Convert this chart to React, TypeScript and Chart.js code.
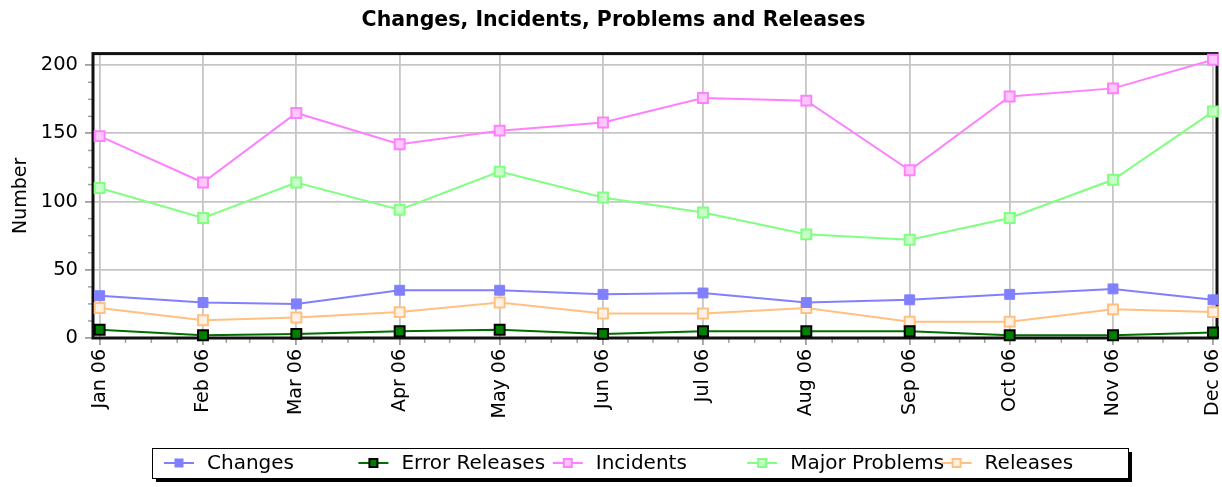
import React, { useEffect, useRef } from "react";
import { Chart, registerables } from "chart.js";

Chart.register(...registerables);

const months = ["Jan 06", "Feb 06", "Mar 06", "Apr 06", "May 06", "Jun 06", "Jul 06", "Aug 06", "Sep 06", "Oct 06", "Nov 06", "Dec 06"];
const monthDays = months.map((_, i) => Math.round((Date.UTC(2006, i, 1) - Date.UTC(2006, 0, 1)) / 86400000));

const changes = [31, 26, 25, 35, 35, 32, 33, 26, 28, 32, 36, 28];
const errorReleases = [6, 2, 3, 5, 6, 3, 5, 5, 5, 2, 2, 4];
const incidents = [148, 114, 165, 142, 152, 158, 176, 174, 123, 177, 183, 204];
const majorProblems = [110, 88, 114, 94, 122, 103, 92, 76, 72, 88, 116, 166];
const releases = [22, 13, 15, 19, 26, 18, 18, 22, 12, 12, 21, 19];

const yTicks = [0, 50, 100, 150, 200];

const FONT = "'DejaVu Sans', 'Liberation Sans', Arial, sans-serif";

const toPoints = (vals: number[]) => vals.map((v, i) => ({ x: monthDays[i], y: v }));

const mkDataset = (label: string, vals: number[], line: string, fill: string, border: string, bw: number) => ({
  label,
  data: toPoints(vals),
  borderColor: line,
  backgroundColor: fill,
  borderWidth: 2,
  pointStyle: "rect",
  pointRadius: 7,
  pointBackgroundColor: fill,
  pointBorderColor: border,
  pointBorderWidth: bw,
  tension: 0,
  clip: false as any,
});

const plotBorder = {
  id: "plotBorder",
  beforeDatasetsDraw(chart: any) {
    const { ctx, chartArea: a } = chart;
    ctx.save();
    ctx.strokeStyle = "#a0a0a0";
    ctx.lineWidth = 1.5;
    const xs = chart.scales.x;
    const ys = chart.scales.y;
    for (let i = 0; i < monthDays.length - 1; i++) {
      for (let k = 1; k < 4; k++) {
        const d = monthDays[i] + ((monthDays[i + 1] - monthDays[i]) * k) / 4;
        const px = xs.getPixelForValue(d);
        ctx.beginPath();
        ctx.moveTo(px, a.bottom);
        ctx.lineTo(px, a.bottom + 5);
        ctx.stroke();
      }
    }
    for (let v = 12.5; v < ys.max; v += 12.5) {
      if (v % 50 === 0) continue;
      const py = ys.getPixelForValue(v);
      ctx.beginPath();
      ctx.moveTo(a.left - 5, py);
      ctx.lineTo(a.left, py);
      ctx.stroke();
    }
    ctx.strokeStyle = "#111";
    ctx.lineWidth = 3;
    ctx.strokeRect(a.left, a.top, a.right - a.left, a.bottom - a.top);
    ctx.restore();
  },
};

const customLegend = {
  id: "customLegend",
  afterDraw(chart: any) {
    const { ctx } = chart;
    const bx = 152, by = 448, bw = 976, bh = 30;
    ctx.save();
    ctx.fillStyle = "#000";
    ctx.fillRect(bx + 4, by + 4, bw, bh);
    ctx.fillStyle = "#fff";
    ctx.fillRect(bx, by, bw, bh);
    ctx.strokeStyle = "#000";
    ctx.lineWidth = 1;
    ctx.strokeRect(bx + 0.5, by + 0.5, bw, bh);
    const cy = by + bh / 2;
    chart.data.datasets.forEach((ds: any, i: number) => {
      const tx = 207 + i * 194.4;
      ctx.strokeStyle = ds.borderColor;
      ctx.lineWidth = 2;
      ctx.beginPath();
      ctx.moveTo(tx - 43, cy);
      ctx.lineTo(tx - 13, cy);
      ctx.stroke();
      const s = 8;
      ctx.fillStyle = ds.pointBackgroundColor;
      ctx.fillRect(tx - 28 - s / 2, cy - s / 2, s, s);
      ctx.strokeStyle = ds.pointBorderColor;
      ctx.lineWidth = ds.pointBorderWidth;
      ctx.strokeRect(tx - 28 - s / 2, cy - s / 2, s, s);
      ctx.fillStyle = "#000";
      ctx.font = `20px ${FONT}`;
      ctx.textBaseline = "middle";
      ctx.textAlign = "left";
      ctx.fillText(ds.label, tx, cy + 1);
    });
    ctx.restore();
  },
};

export default function App() {
  const ref = useRef<HTMLCanvasElement | null>(null);
  useEffect(() => {
    if (!ref.current) return;
    const gridColor = "#c6c6c6";
    const chart = new Chart(ref.current, {
      type: "line",
      data: {
        datasets: [
          mkDataset("Changes", changes, "#8080ff", "#8080ff", "#8080ff", 1),
          mkDataset("Error Releases", errorReleases, "#006e00", "#008000", "#000000", 2),
          mkDataset("Incidents", incidents, "#ff80ff", "#ffc8ff", "#ff80ff", 2),
          mkDataset("Major Problems", majorProblems, "#80ff80", "#c8ffc8", "#80ff80", 2),
          mkDataset("Releases", releases, "#ffc080", "#fff2e4", "#ffc080", 2),
        ] as any,
      },
      plugins: [plotBorder, customLegend],
      options: {
        animation: false,
        responsive: true,
        maintainAspectRatio: false,
        layout: { autoPadding: false, padding: { left: 10, right: 5, top: 0, bottom: 0 } },
        plugins: {
          legend: { display: false },
          tooltip: { enabled: false },
          title: {
            display: true,
            text: "Changes, Incidents, Problems and Releases",
            color: "#000",
            font: { family: FONT, size: 20.5, weight: "bold" },
            padding: { top: 8, bottom: 21 },
          },
        },
        scales: {
          x: {
            type: "linear",
            min: -2,
            max: 335.2,
            afterBuildTicks: (s: any) => {
              s.ticks = monthDays.map((v) => ({ value: v }));
            },
            afterFit: (s: any) => {
              s.height = 149;
              s.paddingLeft = 0;
              s.paddingRight = 0;
            },
            ticks: {
              autoSkip: false,
              minRotation: 90,
              maxRotation: 90,
              padding: 4,
              color: "#000",
              font: { family: FONT, size: 19 },
              callback: (v: any) => {
                const i = monthDays.indexOf(Number(v));
                return i >= 0 ? months[i] : "";
              },
            },
            grid: { color: gridColor, lineWidth: 1.8, tickLength: 7, tickColor: "#a0a0a0" },
            border: { display: false },
          },
          y: {
            min: 0,
            max: 208.5,
            afterBuildTicks: (s: any) => {
              s.ticks = yTicks.map((v) => ({ value: v }));
            },
            afterFit: (s: any) => {
              s.width = 83;
              s.paddingTop = 0;
              s.paddingBottom = 0;
            },
            ticks: {
              padding: 7,
              color: "#000",
              font: { family: FONT, size: 19.5 },
            },
            grid: { color: gridColor, lineWidth: 1.8, tickLength: 8, tickColor: "#a0a0a0" },
            border: { display: false },
            title: {
              display: true,
              text: "Number",
              color: "#000",
              font: { family: FONT, size: 19 },
              padding: { top: 0, bottom: 0 },
            },
          },
        },
      } as any,
    });
    return () => chart.destroy();
  }, []);
  return (
    <div style={{ position: "fixed", left: 0, top: 0, width: 1222, height: 487, background: "#fff" }}>
      <canvas ref={ref} />
    </div>
  );
}
